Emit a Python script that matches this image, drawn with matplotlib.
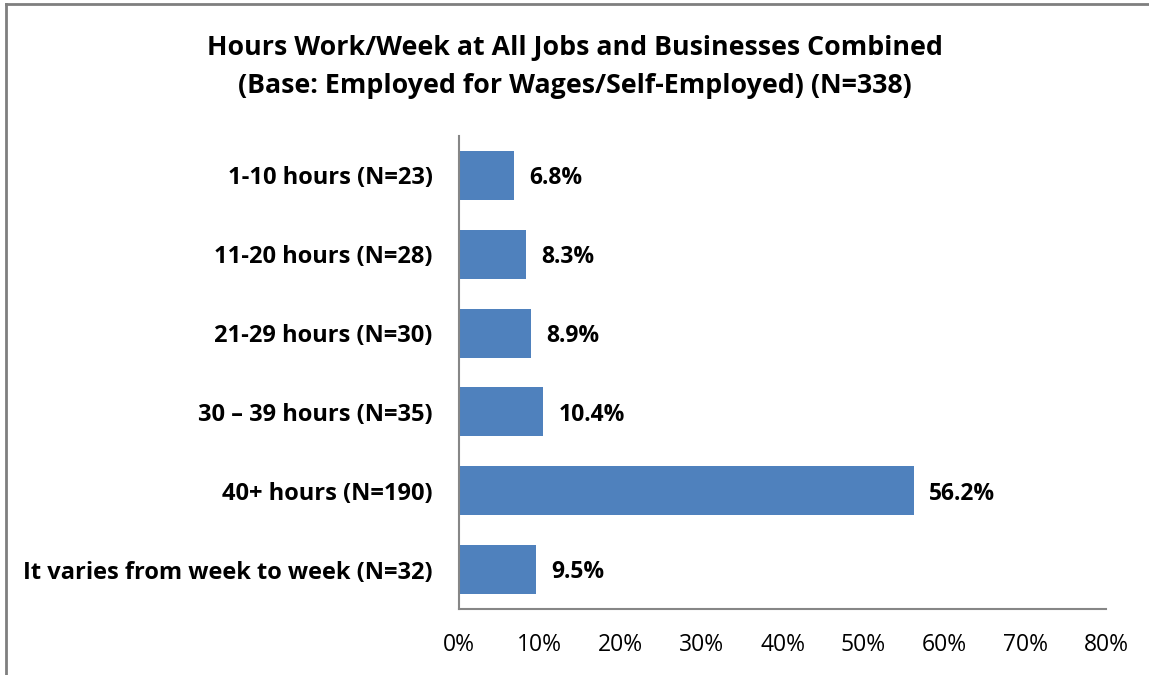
import numpy as np
import matplotlib.pyplot as plt
from matplotlib.lines import Line2D

# data
categories = ['1-10 hours (N=23)', '11-20 hours (N=28)', '21-29 hours (N=30)',
              '30 \u2013 39 hours (N=35)', '40+ hours (N=190)',
              'It varies from week to week (N=32)']
values = [6.8, 8.3, 8.9, 10.4, 56.2, 9.5]
ticks = [0, 10, 20, 30, 40, 50, 60, 70, 80]

plt.rcParams['font.family'] = ['Open Sans', 'DejaVu Sans']

fig = plt.figure(figsize=(11.49, 6.75), dpi=100)
ax = fig.add_axes([0.3995, 0.0978, 0.5631, 0.7007])

y = np.arange(len(categories))
ax.barh(y, values, height=0.62, color='#4F81BD')
ax.set_ylim(len(categories) - 0.5, -0.5)
ax.set_xlim(0, 80)

ax.set_yticks(y)
ax.set_yticklabels(categories, fontsize=17, fontweight='bold')
ax.set_xticks(ticks)
ax.set_xticklabels(['%d%%' % t for t in ticks], fontsize=16.5)
ax.tick_params(length=0)
ax.tick_params(axis='y', pad=19)
ax.tick_params(axis='x', pad=17)

for s in ['top', 'right']:
    ax.spines[s].set_visible(False)
for s in ['left', 'bottom']:
    ax.spines[s].set_color('#868686')
    ax.spines[s].set_linewidth(1.5)

for i, v in enumerate(values):
    ax.annotate('%.1f%%' % v, (v, i), xytext=(11, -2), textcoords='offset points',
                va='center', ha='left', fontsize=16.5, fontweight='bold')

fig.text(0.5, 0.901, 'Hours Work/Week at All Jobs and Businesses Combined\n'
         '(Base: Employed for Wages/Self-Employed) (N=338)',
         ha='center', va='center', fontsize=19.3, fontweight='bold', linespacing=1.6)

# chart border (only top and left visible)
fig.add_artist(Line2D([0.0055, 0.0055], [0, 0.994], color='#7f7f7f', lw=2, transform=fig.transFigure))
fig.add_artist(Line2D([0.0055, 1], [0.994, 0.994], color='#7f7f7f', lw=2, transform=fig.transFigure))

plt.savefig('out.png')
